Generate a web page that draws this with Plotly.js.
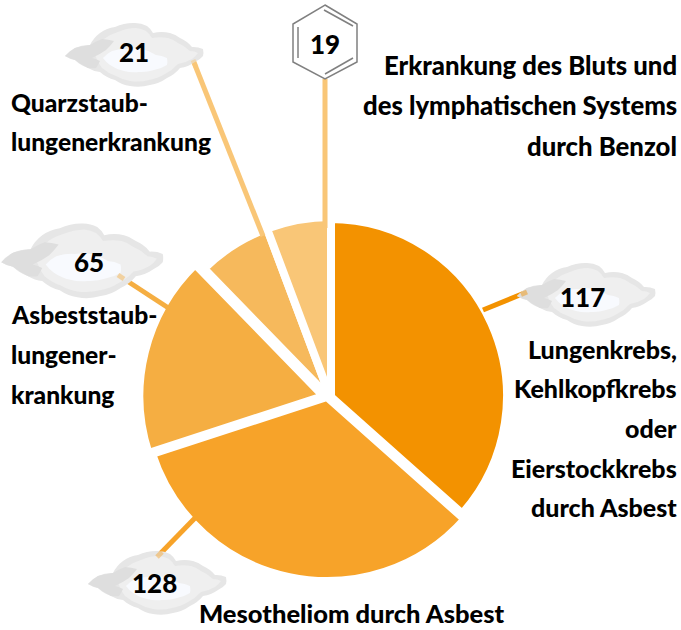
<!DOCTYPE html>
<html><head><meta charset="utf-8">
<script src="https://cdn.plot.ly/plotly-3.0.1.min.js"></script>
<style>html,body{margin:0;padding:0;background:#fff}#c{width:681px;height:630px}</style></head>
<body><div id="c"></div>
<script>
// Printed values, clockwise from the top of the pie.
const printedValues = [117, 128, 65, 21, 19];
// Slice sizes as drawn in the reference: its two largest wedges are drawn the other way round
// from their printed numbers, and the angles were read from the picture.
const sliceValues = [128, 117, 62, 23, 20];
const categories = ['Lungenkrebs, Kehlkopfkrebs oder Eierstockkrebs durch Asbest', 'Mesotheliom durch Asbest', 'Asbeststaublungenerkrankung', 'Quarzstaublungenerkrankung', 'Erkrankung des Bluts und des lymphatischen Systems durch Benzol'];
const sliceColors = ['#F39200', '#F7A329', '#F5AE42', '#F6B95C', '#F9C677'];
const labelLines = [
  ['Erkrankung des Bluts und', 679, 65.5, 'right', 25.7],
  ['des lymphatischen Systems', 679, 105.5, 'right', 25.7],
  ['durch Benzol', 679, 145.5, 'right', 25.7],
  ['Quarzstaub-', 9, 102.5, 'left', 24.6],
  ['lungenerkrankung', 9, 141.5, 'left', 24.6],
  ['Asbeststaub-', 9, 314.5, 'left', 24.6],
  ['lungener-', 9, 354.5, 'left', 24.6],
  ['krankung', 9, 394.5, 'left', 24.6],
  ['Lungenkrebs,', 679, 348.5, 'right', 25],
  ['Kehlkopfkrebs', 679, 387.5, 'right', 25],
  ['oder', 679, 427.5, 'right', 25],
  ['Eierstockkrebs', 679, 467.5, 'right', 25],
  ['durch Asbest', 679, 506.5, 'right', 25],
  ['Mesotheliom durch Asbest', 351, 612.5, 'center', 25.5]
];
const FONT = 'Lato, "Noto Sans", sans-serif';
const W = 681, H = 630;
const px = x => x / W, py = y => 1 - y / H;
const STROKE = 8;
// The reference's wedges do not share one perfect circle, so groups of wedges get their own placement.
const wedgeGroups = [
  {members:[0],   cx:330,   cy:396, r:173, pull:0},
  {members:[1,2], cx:327,   cy:397, r:180, pull:0.02},
  {members:[3,4], cx:331,   cy:399, r:178, pull:0}
];
const shapes = [];
const annos = [];

function line(x0, y0, x1, y1, c, w, op) {
  shapes.push({type:'line', xref:'paper', yref:'paper', x0:px(x0), y0:py(y0), x1:px(x1), y1:py(y1),
    line:{color:c, width:w}, opacity:op === undefined ? 1 : op, layer:'above'});
}
function blob(pts, ox, oy, s, fill, bulge) {
  let d = '';
  pts.forEach((p, i) => {
    const X = ox + p[0] * s, Y = oy + p[1] * s;
    if (i === 0) { d += `M${px(X)},${py(Y)}`; return; }
    const q = pts[i - 1];
    const X0 = ox + q[0] * s, Y0 = oy + q[1] * s;
    const mx = (X + X0) / 2 + (Y - Y0) * bulge, my = (Y + Y0) / 2 - (X - X0) * bulge;
    d += `Q${px(mx)},${py(my)} ${px(X)},${py(Y)}`;
  });
  d += 'Z';
  shapes.push({type:'path', xref:'paper', yref:'paper', path:d, fillcolor:fill, line:{width:0}, layer:'above'});
}
const cloudOuter = [[-69,1],[-59,-7],[-44,-10],[-34,-22],[-19,-28],[1,-32],[13,-29],[19,-22],[36,-22],[46,-17],[58,-8],[69,-6],[69,1],[61,7],[46,13],[33,23],[16,30],[-4,31],[-19,25],[-34,17],[-46,13],[-59,5],[-69,1]];
const cloudMid = [[-40,-4],[-30,-16],[-16,-23],[2,-27],[12,-24],[18,-17],[34,-17],[44,-12],[56,-4],[64,-2],[58,4],[44,9],[31,19],[15,25],[-4,26],[-18,21],[-32,13],[-40,-4]];
const cloudShade = [[-69,1],[-59,-7],[-44,-10],[-32,-16],[-20,-14],[-28,-5],[-42,3],[-34,6],[-38,13],[-46,13],[-59,5],[-69,1]];
const cloudCore = [[-31,3],[-22,-4],[-6,-6],[8,-6],[22,0],[33,3],[33,10],[20,15],[5,17],[-10,16],[-24,10],[-31,3]];
function cloud(ox, oy, s) {
  blob(cloudOuter, ox, oy, s, '#E6E6E6', 0.12);
  blob(cloudMid, ox, oy, s, '#EFEFEF', 0.10);
  blob(cloudShade, ox, oy, s, '#DEDEDE', 0.05);
  blob(cloudCore, ox, oy, s, '#F8FAFE', 0.10);
}

// leaders
line(325, 79, 325, 228, sliceColors[4], 5);
line(193, 60, 263, 236, sliceColors[4], 5);
line(118, 275, 170, 309, sliceColors[2], 5);
line(527, 292, 483, 310, sliceColors[0], 5);
line(157, 557, 195, 518, sliceColors[1], 5);

// clouds
cloud(134, 55, 1);
cloud(82, 261, 1.17);
cloud(586, 295, 1);
cloud(157, 583, 1);

// leader tips over clouds
line(118, 275, 124, 279, '#F5AE42', 5, 0.45);
line(527, 292, 521, 294.5, '#F39200', 5, 0.45);
line(157, 557, 162, 552, '#F7A329', 5, 0.45);
line(193, 60, 196, 67, '#F9C677', 5, 0.45);

// benzene ring
const ring = [[325,5],[357,24],[357,62],[325,79],[293,62],[293,24]];
shapes.push({type:'path', xref:'paper', yref:'paper',
  path: ring.map((p,i)=>(i?'L':'M')+px(p[0])+','+py(p[1])).join('')+'Z',
  fillcolor:'#FFFFFF', line:{color:'#808080', width:1.5}, layer:'above'});
line(298, 27, 298, 58, '#808080', 1.5);
line(324, 10, 353, 26, '#808080', 1.5);
line(325, 74, 353, 58, '#808080', 1.5);

// printed numbers
const numPos = [[582,297],[154,583],[89,262],[134,52],[325,44]];
printedValues.forEach((v,i)=>annos.push({xref:'paper',yref:'paper',x:px(numPos[i][0]),y:py(numPos[i][1]),
  text:String(v),showarrow:false,xanchor:'center',yanchor:'middle',font:{family:FONT,size:26,weight:900,color:'#000'}}));
labelLines.forEach(l=>annos.push({xref:'paper',yref:'paper',x:px(l[1]),y:py(l[2]),text:l[0],
  showarrow:false,xanchor:l[3],yanchor:'middle',font:{family:FONT,size:l[4],weight:900,color:'#000'}}));

const NONE = 'rgba(0,0,0,0)';
const traces = wedgeGroups.map(g => {
  const D = (g.r + STROKE / 2) * (1 + g.pull);
  const on = i => g.members.includes(i);
  return {
    type:'pie', values:sliceValues, labels:categories, sort:false, direction:'clockwise', rotation:0,
    textinfo:'none', hoverinfo:'label+value', showlegend:false,
    pull:sliceValues.map((_,i)=> i===2 ? g.pull : 0),
    marker:{colors:sliceColors.map((c,i)=>on(i)?c:NONE),
            line:{color:sliceColors.map((_,i)=>on(i)?'#FFFFFF':NONE), width:STROKE}},
    domain:{x:[px(g.cx-D),px(g.cx+D)], y:[py(g.cy+D),py(g.cy-D)]}
  };
});
Plotly.newPlot('c',traces,{
  width:W,height:H,margin:{l:0,r:0,t:0,b:0},paper_bgcolor:'#fff',showlegend:false,
  shapes:shapes,annotations:annos
},{displayModeBar:false,staticPlot:true});
</script></body></html>
